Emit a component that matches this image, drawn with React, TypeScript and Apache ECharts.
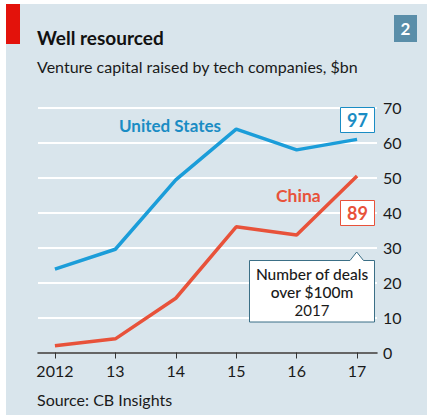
import React, { useEffect, useRef } from "react";
import * as echarts from "echarts";

const years = [2012, 2013, 2014, 2015, 2016, 2017];
const yearLabels = ["2012", "13", "14", "15", "16", "17"];
const unitedStates = [23.8, 29.5, 49.3, 63.8, 57.9, 60.9];
const china = [1.9, 3.9, 15.5, 35.9, 33.6, 50.4];
const usDeals2017 = "97";
const chinaDeals2017 = "89";
const yTicks = { min: 0, max: 70, interval: 10 };

const FONT = "Lato, sans-serif";
const BLUE = "#1b9dd9";
const BLUE_TXT = "#1a8cc4";
const RED = "#e8523a";
const DARK = "#1a1a1a";

export default function App() {
  const ref = useRef<HTMLDivElement>(null);
  useEffect(() => {
    if (!ref.current) return;
    const chart = echarts.init(ref.current, null, { renderer: "svg" });
    chart.setOption({
      animation: false,
      backgroundColor: "#ffffff",
      textStyle: { fontFamily: FONT },
      grid: { left: 38, right: 50, top: 107.5, bottom: 66.5, containLabel: false },
      xAxis: {
        type: "value",
        min: 2011.72,
        max: 2017.33,
        splitLine: { show: false },
        axisLine: { show: true, onZero: false, lineStyle: { color: "#333", width: 1.5 } },
        axisTick: { show: true, customValues: years, length: 6, lineStyle: { color: "#333", width: 1 } },
        axisLabel: {
          customValues: years,
          formatter: (v: number) => yearLabels[years.indexOf(Math.round(v))] ?? "",
          color: DARK,
          fontSize: 16,
          fontFamily: FONT,
          margin: 10,
        },
      },
      yAxis: {
        type: "value",
        position: "right",
        min: yTicks.min,
        max: yTicks.max,
        interval: yTicks.interval,
        axisLine: { show: false },
        axisTick: { show: false },
        splitLine: { show: true, lineStyle: { color: "#ffffff", width: 2 } },
        axisLabel: { color: DARK, fontSize: 16, fontFamily: FONT, margin: 6, align: "left" },
      },
      series: [
        {
          type: "line",
          name: "United States",
          data: years.map((y, i) => [y, unitedStates[i]]),
          showSymbol: false,
          lineStyle: { color: BLUE, width: 3.5 },
          z: 3,
        },
        {
          type: "line",
          name: "China",
          data: years.map((y, i) => [y, china[i]]),
          showSymbol: false,
          lineStyle: { color: RED, width: 3.5 },
          z: 3,
        },
      ],
      graphic: [
        { type: "rect", shape: { x: 6, y: 4, width: 421, height: 411 }, style: { fill: "#d9e5ec" }, z: -10, silent: true },
        { type: "rect", shape: { x: 6, y: 4, width: 14, height: 40 }, style: { fill: "#e3120b" }, z: -5 },
        { type: "text", x: 37, y: 37, style: { text: "Well resourced", fill: "#111", fontSize: 19, fontWeight: "bold", fontFamily: FONT, textVerticalAlign: "middle" } },
        { type: "text", x: 37, y: 66, style: { text: "Venture capital raised by tech companies, $bn", fill: DARK, fontSize: 16, fontFamily: FONT, textVerticalAlign: "middle" } },
        { type: "rect", shape: { x: 394, y: 15, width: 23, height: 27 }, style: { fill: "#5a8ea9" } },
        { type: "text", x: 405.5, y: 28.5, style: { text: "2", fill: "#fff", fontSize: 17, fontWeight: "bold", fontFamily: FONT, textAlign: "center", textVerticalAlign: "middle" } },
        { type: "text", x: 119, y: 125, style: { text: "United States", fill: BLUE_TXT, fontSize: 17, fontWeight: "bold", fontFamily: FONT, textVerticalAlign: "middle" }, z: 10 },
        { type: "text", x: 276, y: 195.5, style: { text: "China", fill: RED, fontSize: 17.5, fontWeight: "bold", fontFamily: FONT, textVerticalAlign: "middle" }, z: 10 },
        { type: "rect", shape: { x: 340.5, y: 107.5, width: 34, height: 25 }, style: { fill: "#fff", stroke: BLUE_TXT, lineWidth: 1 }, z: 10 },
        { type: "text", x: 357.5, y: 120, style: { text: usDeals2017, fill: BLUE_TXT, fontSize: 18, fontWeight: "bold", fontFamily: FONT, textAlign: "center", textVerticalAlign: "middle" }, z: 11 },
        { type: "rect", shape: { x: 340.5, y: 200.5, width: 34, height: 25 }, style: { fill: "#fff", stroke: RED, lineWidth: 1 }, z: 10 },
        { type: "text", x: 357.5, y: 213, style: { text: chinaDeals2017, fill: RED, fontSize: 18, fontWeight: "bold", fontFamily: FONT, textAlign: "center", textVerticalAlign: "middle" }, z: 11 },
        {
          type: "polygon",
          shape: { points: [[249.5, 260.5], [350, 260.5], [356.7, 252], [363.5, 260.5], [374.5, 260.5], [374.5, 322], [249.5, 322]] },
          style: { fill: "#fff", stroke: "#3b6f86", lineWidth: 1 },
          z: 10,
        },
        { type: "text", x: 312, y: 274, style: { text: "Number of deals", fill: DARK, fontSize: 15.5, fontWeight: 500, fontFamily: FONT, textAlign: "center", textVerticalAlign: "middle" }, z: 11 },
        { type: "text", x: 312, y: 292, style: { text: "over $100m", fill: DARK, fontSize: 15.5, fontWeight: 500, fontFamily: FONT, textAlign: "center", textVerticalAlign: "middle" }, z: 11 },
        { type: "text", x: 312, y: 310, style: { text: "2017", fill: DARK, fontSize: 15, fontFamily: FONT, textAlign: "center", textVerticalAlign: "middle" }, z: 11 },
        { type: "text", x: 37, y: 399, style: { text: "Source: CB Insights", fill: DARK, fontSize: 16, fontFamily: FONT, textVerticalAlign: "middle" } },
      ],
    });
    return () => chart.dispose();
  }, []);
  return <div ref={ref} style={{ position: "fixed", left: 0, top: 0, width: 427, height: 419 }} />;
}
